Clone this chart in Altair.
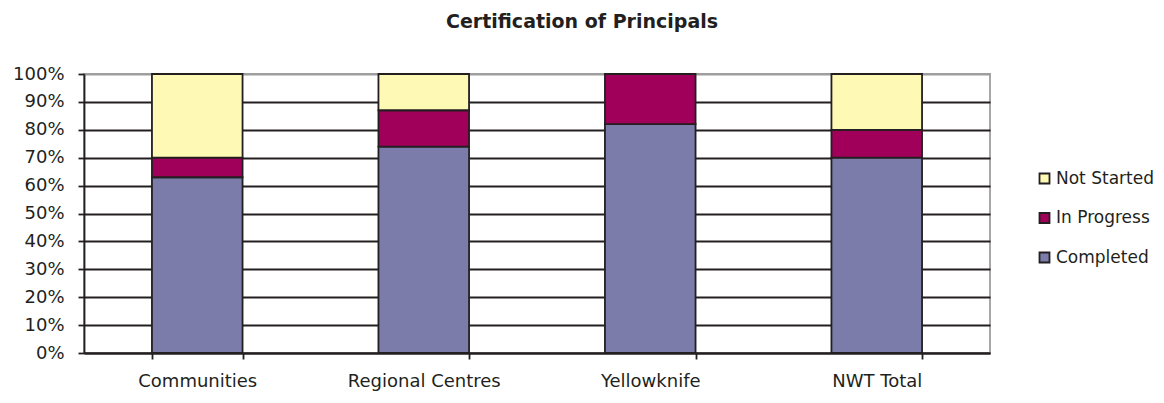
import altair as alt
import pandas as pd

categories = ["Communities", "Regional Centres", "Yellowknife", "NWT Total"]
completed = [63, 74, 82, 70]
in_progress = [7, 13, 18, 10]
not_started = [30, 13, 0, 20]

series = ["Completed", "In Progress", "Not Started"]
colors = ["#7B7CA9", "#A0005A", "#FFF9B6"]

rows = []
for i, c in enumerate(categories):
    for k, (s, vals) in enumerate(zip(series, [completed, in_progress, not_started])):
        rows.append({"category": c, "series": s, "value": vals[i] / 100.0, "order": k})
df = pd.DataFrame(rows)

FONT = "DejaVu Sans"
INK = "#231F20"

chart = alt.Chart(df).mark_bar(stroke=INK, strokeWidth=1.8).encode(
    x=alt.X("category:N", sort=categories, title=None,
            scale=alt.Scale(paddingInner=0.6, paddingOuter=0.3),
            axis=alt.Axis(labelAngle=0, tickBand="extent", labelPadding=13,
                          labelFontSize=18, labelColor=INK, labelFont=FONT,
                          domainColor=INK, domainWidth=1.8,
                          tickColor=INK, tickWidth=1.8, tickSize=6)),
    y=alt.Y("value:Q", stack="zero", title=None,
            scale=alt.Scale(domain=[0, 1], nice=False),
            axis=alt.Axis(format=".0%", values=[i / 10 for i in range(11)],
                          labelFontSize=18, labelColor=INK, labelFont=FONT,
                          labelPadding=14,
                          domainColor=INK, domainWidth=1.8,
                          tickColor=INK, tickWidth=1.8, tickSize=6,
                          gridColor={"condition": {"test": "datum.value >= 1", "value": "#9E9E9E"},
                                     "value": INK},
                          gridWidth=1.8)),
    color=alt.Color("series:N",
                    scale=alt.Scale(domain=["Not Started", "In Progress", "Completed"],
                                    range=[colors[2], colors[1], colors[0]]),
                    legend=alt.Legend(title=None, orient="none", legendX=952, legendY=96,
                                      symbolType="square", symbolSize=100,
                                      symbolStrokeColor=INK, symbolStrokeWidth=1.8,
                                      symbolOpacity=1,
                                      labelFontSize=17, labelFont=FONT, labelColor=INK,
                                      labelOffset=3, rowPadding=20.5)),
    order=alt.Order("order:Q"),
).properties(
    width=906,
    height=279,
    title=alt.TitleParams("Certification of Principals", fontSize=19, font=FONT,
                          fontWeight="bold", color=INK, anchor="middle",
                          dx=45, offset=33),
    autosize=alt.AutoSizeParams(type="none"),
    padding={"left": 76, "top": 66, "right": 166, "bottom": 40},
).configure_view(stroke="#9E9E9E", strokeWidth=1.8)

chart.save("out.html", embed_options={"renderer": "svg", "actions": False})
